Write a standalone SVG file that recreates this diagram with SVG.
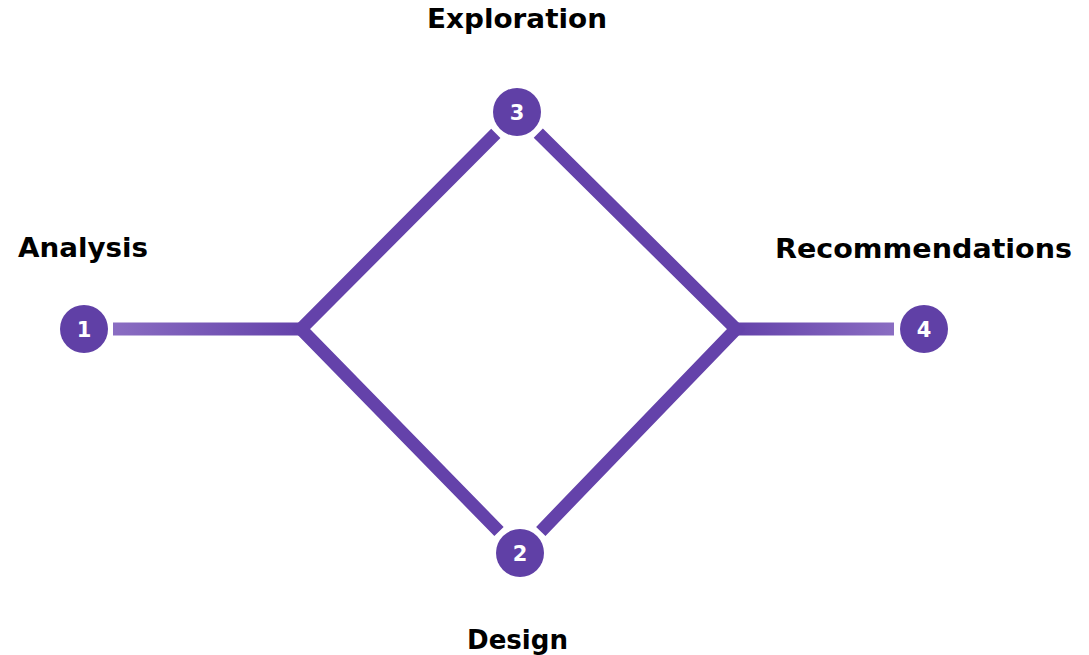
<svg xmlns="http://www.w3.org/2000/svg" width="1089" height="655" viewBox="0 0 1089 655">
  <style>
    .label { font-family: "DejaVu Sans", "Liberation Sans", sans-serif; font-weight: bold; font-size: 27px; fill: #000000; text-anchor: middle; }
    .num { font-family: "DejaVu Sans", "Liberation Sans", sans-serif; font-weight: bold; font-size: 21px; fill: #ffffff; text-anchor: middle; }
    .dot { fill: #6040a6; }
    .edge { fill: none; stroke: #6442aa; stroke-width: 13; stroke-linecap: butt; stroke-linejoin: miter; }
  </style>
  <defs>
    <linearGradient id="fadeLeft" gradientUnits="userSpaceOnUse" x1="113" y1="0" x2="301" y2="0">
      <stop offset="0" stop-color="#8a6dc2"/>
      <stop offset="1" stop-color="#6442aa"/>
    </linearGradient>
    <linearGradient id="fadeRight" gradientUnits="userSpaceOnUse" x1="736" y1="0" x2="894" y2="0">
      <stop offset="0" stop-color="#6442aa"/>
      <stop offset="1" stop-color="#8a6dc2"/>
    </linearGradient>
  </defs>

  <g id="connectors">
    <line x1="113" y1="329" x2="302" y2="329" stroke="url(#fadeLeft)" stroke-width="13"/>
    <line x1="735" y1="329" x2="894" y2="329" stroke="url(#fadeRight)" stroke-width="13"/>
    <path class="edge" d="M495.8,133.3 L301,329 L499,531.5"/>
    <path class="edge" d="M538.3,133.1 L736,329 L540.8,531.4"/>
  </g>

  <g id="node-analysis">
    <circle class="dot" cx="84" cy="329" r="24"/>
    <text class="num" x="84" y="337">1</text>
    <text class="label" x="83" y="257" textLength="130" lengthAdjust="spacingAndGlyphs">Analysis</text>
  </g>

  <g id="node-design">
    <circle class="dot" cx="520" cy="553" r="24"/>
    <text class="num" x="520" y="561">2</text>
    <text class="label" x="517.5" y="649" textLength="101" lengthAdjust="spacingAndGlyphs">Design</text>
  </g>

  <g id="node-exploration">
    <circle class="dot" cx="517" cy="112" r="24"/>
    <text class="num" x="517" y="120">3</text>
    <text class="label" x="517" y="28" textLength="180" lengthAdjust="spacingAndGlyphs">Exploration</text>
  </g>

  <g id="node-recommendations">
    <circle class="dot" cx="924" cy="329" r="24"/>
    <text class="num" x="924" y="337">4</text>
    <text class="label" x="923.5" y="258" textLength="297" lengthAdjust="spacingAndGlyphs">Recommendations</text>
  </g>
</svg>
